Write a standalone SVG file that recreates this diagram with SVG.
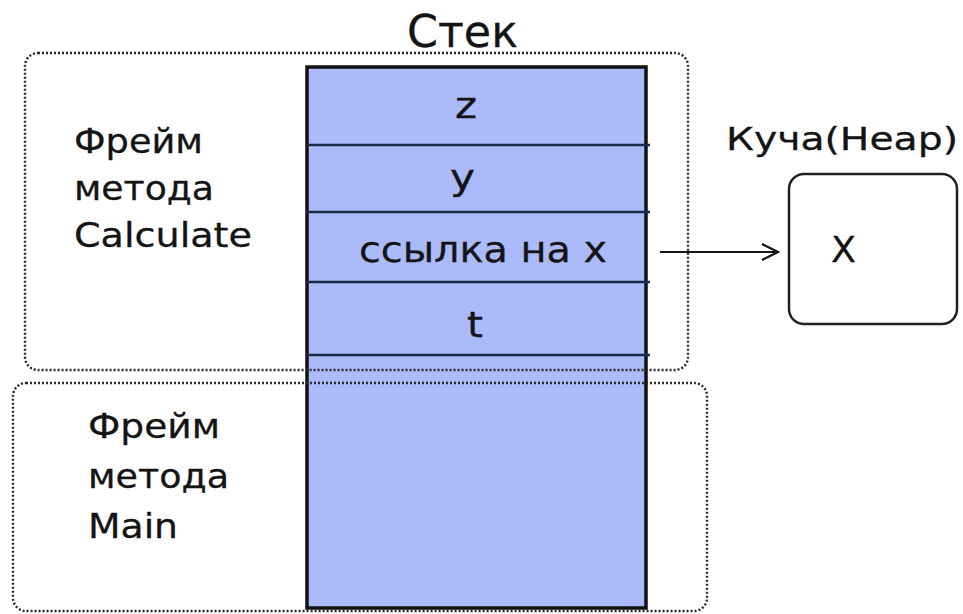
<svg xmlns="http://www.w3.org/2000/svg" width="963" height="614" viewBox="0 0 963 614">
<defs>
<style>
.t{font-family:"DejaVu Sans","Noto Sans",sans-serif;fill:#141414;stroke:#141414;stroke-width:0.3;}
.frame{fill:none;stroke:#2a2a2a;stroke-width:2.4;stroke-dasharray:2 2;}
.row{stroke:#1c2a4a;stroke-width:2.5;}
</style>
<marker id="arr" viewBox="0 0 20 20" refX="18" refY="10" markerWidth="20" markerHeight="20" markerUnits="userSpaceOnUse" orient="auto">
<path d="M2,2 L18,10 L2,18" fill="none" stroke="#151515" stroke-width="2.2"/>
</marker>
</defs>
<rect width="963" height="614" fill="#fff"/>
<g id="stack">
<rect x="307" y="67" width="339" height="541" fill="#abbafa" stroke="#111" stroke-width="3.5"/>
<line class="row" x1="307" y1="145" x2="650" y2="145"/>
<line class="row" x1="307" y1="212" x2="650" y2="212"/>
<line class="row" x1="307" y1="282" x2="650" y2="282"/>
<line class="row" x1="307" y1="355" x2="650" y2="355"/>
<text class="t" x="407" y="47" font-size="45" textLength="111" lengthAdjust="spacingAndGlyphs">Стек</text>
<text class="t" x="455" y="118" font-size="35" textLength="22" lengthAdjust="spacingAndGlyphs">z</text>
<text class="t" x="450" y="190" font-size="35" textLength="25" lengthAdjust="spacingAndGlyphs">y</text>
<text class="t" x="359" y="262" font-size="36" textLength="248" lengthAdjust="spacingAndGlyphs">ссылка на x</text>
<text class="t" x="467" y="337" font-size="35" textLength="16" lengthAdjust="spacingAndGlyphs">t</text>
</g>
<g id="frame-calculate">
<rect class="frame" x="25" y="53" width="663" height="317" rx="13"/>
<text class="t" x="74" y="153" font-size="34" textLength="129" lengthAdjust="spacingAndGlyphs">Фрейм</text>
<text class="t" x="74" y="200" font-size="34" textLength="140" lengthAdjust="spacingAndGlyphs">метода</text>
<text class="t" x="74" y="247" font-size="34" textLength="178" lengthAdjust="spacingAndGlyphs">Calculate</text>
</g>
<g id="frame-main">
<rect class="frame" x="13" y="383" width="694" height="228" rx="13"/>
<text class="t" x="88" y="438" font-size="34" textLength="132" lengthAdjust="spacingAndGlyphs">Фрейм</text>
<text class="t" x="88" y="488" font-size="34" textLength="141" lengthAdjust="spacingAndGlyphs">метода</text>
<text class="t" x="88" y="538" font-size="34" textLength="90" lengthAdjust="spacingAndGlyphs">Main</text>
</g>
<g id="heap">
<text class="t" x="726" y="150" font-size="32" textLength="232" lengthAdjust="spacingAndGlyphs">Куча(Heap)</text>
<rect x="789" y="174" width="168" height="150" rx="15" fill="#fff" stroke="#222" stroke-width="2.5"/>
<text class="t" x="831" y="262" font-size="36" textLength="25" lengthAdjust="spacingAndGlyphs">X</text>
</g>
<g id="connectors">
<line x1="660" y1="252" x2="778" y2="252" stroke="#151515" stroke-width="2.2" marker-end="url(#arr)"/>
</g>
</svg>
